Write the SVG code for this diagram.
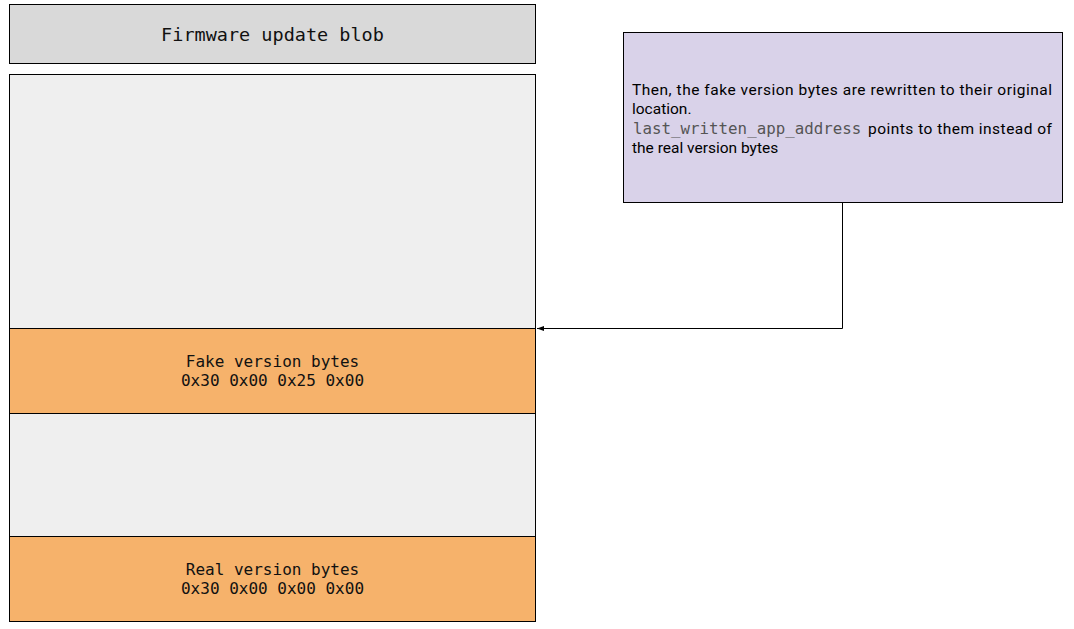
<svg xmlns="http://www.w3.org/2000/svg" width="1074" height="629" viewBox="0 0 1074 629">
<defs>
<style>
.box{stroke:#000;stroke-width:1}
.mono{font-family:"DejaVu Sans Mono","Liberation Mono",monospace;fill:#111;text-anchor:middle}
.sans{font-family:Roboto,"Liberation Sans",sans-serif;font-size:15.5px;fill:#000}
.code{font-family:"DejaVu Sans Mono","Liberation Mono",monospace;font-size:15.8px;fill:#555}
.conn{fill:none;stroke:#000;stroke-width:1}
</style>
<marker id="arr" markerWidth="8" markerHeight="8" refX="7" refY="4" orient="auto" markerUnits="userSpaceOnUse">
<path d="M0,1.5 L7,4 L0,6.5 Z" fill="#000"/>
</marker>
</defs>
<rect width="1074" height="629" fill="#fff"/>
<g id="title">
<rect class="box" x="9.5" y="4.5" width="526" height="59" fill="#d9d9d9"/>
<text class="mono" x="272.5" y="41" font-size="18.5">Firmware update blob</text>
</g>
<g id="blob">
<rect class="box" x="9.5" y="74.5" width="526" height="547" fill="#efefef"/>
</g>
<g id="fake">
<rect class="box" x="9.5" y="328.5" width="526" height="85" fill="#f6b26b"/>
<text class="mono" x="272.5" y="367" font-size="16">Fake version bytes</text>
<text class="mono" x="272.5" y="386" font-size="16">0x30 0x00 0x25 0x00</text>
</g>
<g id="real">
<rect class="box" x="9.5" y="536.5" width="526" height="85" fill="#f6b26b"/>
<text class="mono" x="272.5" y="575" font-size="16">Real version bytes</text>
<text class="mono" x="272.5" y="594" font-size="16">0x30 0x00 0x00 0x00</text>
</g>
<g id="note">
<rect class="box" x="623.5" y="32.5" width="439" height="170" fill="#d9d2e9"/>
<text class="sans" x="632" y="95" textLength="420" lengthAdjust="spacing">Then, the fake version bytes are rewritten to their original</text>
<text class="sans" x="632" y="114">location.</text>
<text class="code" x="633" y="134">last_written_app_address</text>
<text class="sans" x="868" y="134" textLength="184" lengthAdjust="spacing">points to them instead of</text>
<text class="sans" x="632" y="153">the real version bytes</text>
</g>
<g id="connectors">
<path class="conn" d="M842.5,202.5 V328.5 H537" marker-end="url(#arr)"/>
</g>
</svg>
